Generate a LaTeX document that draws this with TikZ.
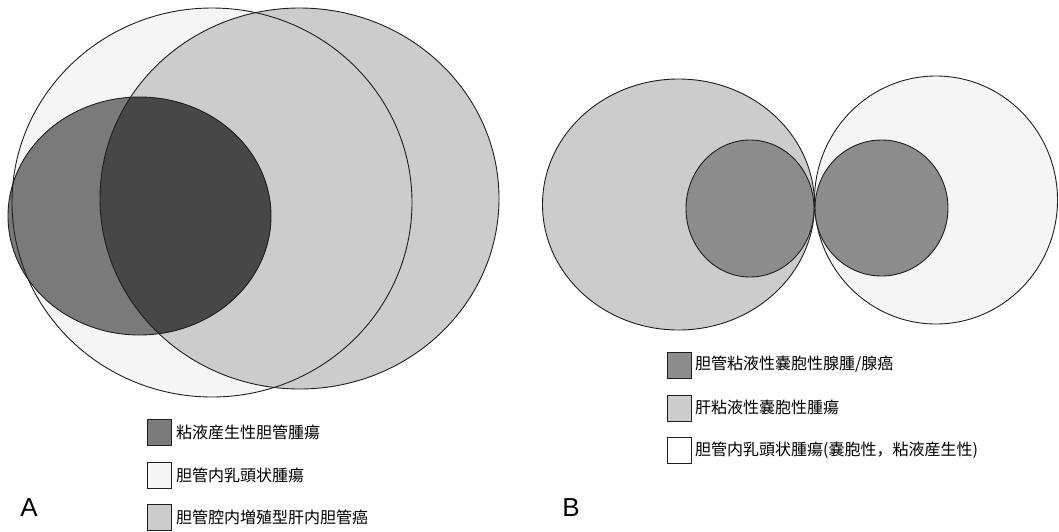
\documentclass[tikz,border=0pt]{standalone}
\usepackage{fontspec}
\setmainfont{Liberation Sans}
\newfontfamily\jp{Noto Sans CJK JP}
\definecolor{paleFill}{gray}{0.96}
\definecolor{midFill}{gray}{0.80}
\definecolor{darkFill}{gray}{0.48}
\definecolor{darkerFill}{gray}{0.28}
\definecolor{darkBFill}{gray}{0.55}
\definecolor{lineCol}{gray}{0.12}
\begin{document}
\begin{tikzpicture}[x=1pt,y=-1pt,
  outline/.style={draw=lineCol, line width=0.9pt},
  keybox/.style={draw=lineCol, line width=0.8pt, minimum width=24pt, minimum height=26pt, inner sep=0pt, anchor=north west},
  keytext/.style={anchor=west, inner sep=0pt, font=\jp\fontsize{16}{16}\selectfont},
  panel/.style={font=\fontsize{26}{26}\selectfont, inner sep=0pt}]
\useasboundingbox (0,0) rectangle (1059,531);

% ---------- panel A: three overlapping regions ----------
\coordinate (aW) at (212,202.5);
\coordinate (aG) at (299.5,198.5);
\coordinate (aD) at (139.5,216);
\fill[paleFill] (aW) ellipse [x radius=200pt, y radius=194.5pt];
\fill[midFill] (aG) ellipse [x radius=199.5pt, y radius=190.5pt];
\fill[darkFill] (aD) ellipse [x radius=131.5pt, y radius=119pt];
\begin{scope}
  \clip (aG) ellipse [x radius=199.5pt, y radius=190.5pt];
  \fill[darkerFill] (aD) ellipse [x radius=131.5pt, y radius=119pt];
\end{scope}
\draw[outline] (aW) ellipse [x radius=200pt, y radius=194.5pt];
\draw[outline] (aG) ellipse [x radius=199.5pt, y radius=190.5pt];
\draw[outline] (aD) ellipse [x radius=131.5pt, y radius=119pt];

% legend A
\node[keybox, fill=darkFill] (ka1) at (147,419) {};
\node[keybox, fill=paleFill] (ka2) at (147,462) {};
\node[keybox, fill=midFill] (ka3) at (147,504) {};
\node[keytext] (ta1) at (176,432) {粘液産生性胆管腫瘍};
\node[keytext] (ta2) at (176,475) {胆管内乳頭状腫瘍};
\node[keytext] (ta3) at (176,517) {胆管腔内増殖型肝内胆管癌};
\node[panel] (labA) at (29,508) {A};

% ---------- panel B: two tangent circles with inner cores ----------
\coordinate (bG) at (678.5,204.5);
\coordinate (bW) at (936,200);
\coordinate (bL) at (750,208.5);
\coordinate (bR) at (881.5,208);
\filldraw[outline, fill=midFill] (bG) ellipse [x radius=136pt, y radius=125.5pt];
\filldraw[outline, fill=paleFill] (bW) ellipse [x radius=121.5pt, y radius=124pt];
\filldraw[outline, fill=darkBFill] (bL) ellipse [x radius=64pt, y radius=68.5pt];
\filldraw[outline, fill=darkBFill] (bR) ellipse [x radius=66.5pt, y radius=68pt];

% legend B
\node[keybox, fill=darkBFill] (kb1) at (667,352) {};
\node[keybox, fill=midFill] (kb2) at (667,395) {};
\node[keybox, fill=white] (kb3) at (667,437) {};
\node[keytext] (tb1) at (695,364) {胆管粘液性嚢胞性腺腫/腺癌};
\node[keytext] (tb2) at (695,407) {肝粘液性嚢胞性腫瘍};
\node[keytext] (tb3) at (695,450) {胆管内乳頭状腫瘍(嚢胞性，粘液産生性)};
\node[panel] (labB) at (571,508) {B};
\end{tikzpicture}
\end{document}
